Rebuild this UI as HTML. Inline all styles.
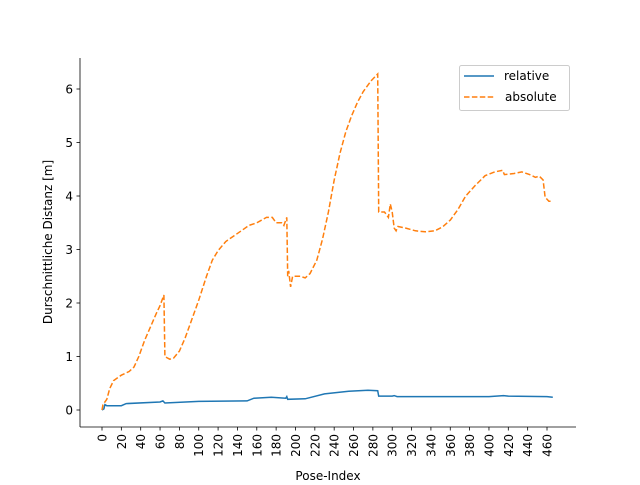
<!DOCTYPE html>
<html><head><meta charset="utf-8"><style>
body{margin:0;background:#fff;font-family:"Liberation Sans","DejaVu Sans",sans-serif}
svg text{font-family:"DejaVu Sans","Liberation Sans",sans-serif;font-size:12px;fill:#000}
</style></head><body>
<svg id="c" width="640" height="480" xmlns="http://www.w3.org/2000/svg"></svg>
<script>
const absIdx=[0,1,3,5,8,12,20,28,33,38,44,50,56,60,64,65,67,70,74,80,86,92,100,108,114,120,128,136,144,152,160,170,176,180,186,188,191,192,193,195,197,205,210,215,222,228,234,240,246,252,258,264,270,278,285,286,292,296,298,300,302,304,306,314,324,334,344,352,360,368,376,386,396,406,414,416,426,434,442,448,452,456,458,462,466];
const absVal=[0,0.1,0.15,0.2,0.4,0.55,0.65,0.72,0.8,1.0,1.3,1.55,1.8,1.95,2.15,1.0,0.98,0.95,0.97,1.1,1.35,1.65,2.05,2.5,2.8,2.98,3.15,3.25,3.35,3.45,3.5,3.6,3.6,3.5,3.5,3.45,3.6,2.5,2.6,2.3,2.5,2.5,2.47,2.55,2.8,3.2,3.7,4.3,4.8,5.2,5.5,5.75,5.95,6.15,6.28,3.7,3.7,3.6,3.85,3.7,3.4,3.35,3.43,3.4,3.35,3.33,3.35,3.42,3.55,3.75,4.0,4.2,4.38,4.45,4.48,4.4,4.42,4.45,4.4,4.35,4.37,4.3,3.98,3.9,3.9];
const relIdx=[0,2,3,5,20,25,60,63,65,100,150,157,175,190,191,192,210,230,255,275,285,286,300,302,305,400,415,420,460,466];
const relVal=[0,0.02,0.1,0.08,0.08,0.12,0.15,0.17,0.13,0.16,0.17,0.22,0.24,0.22,0.25,0.2,0.21,0.3,0.35,0.37,0.36,0.26,0.26,0.27,0.25,0.25,0.27,0.26,0.25,0.24];
const xTicks=[0,20,40,60,80,100,120,140,160,180,200,220,240,260,280,300,320,340,360,380,400,420,440,460];
const yTicks=[0,1,2,3,4,5,6];
const NS="http://www.w3.org/2000/svg",svg=document.getElementById('c');
const X=i=>102+i*0.9674, Y=v=>410-v*53.5;
function el(t,a,p){const e=document.createElementNS(NS,t);for(const k in a)e.setAttribute(k,a[k]);(p||svg).appendChild(e);return e;}
let ax=el('line',{x1:80,y1:58,x2:80,y2:427,stroke:'#000','stroke-width':0.8});

let bx=el('line',{x1:80,y1:427,x2:576,y2:427,stroke:'#000','stroke-width':0.8});

xTicks.forEach(t=>{
 el('line',{x1:X(t),y1:427,x2:X(t),y2:430.5,stroke:'#000','stroke-width':0.8});
 const tx=el('text',{transform:`translate(${X(t)+4.5},434) rotate(-90)`,'text-anchor':'end'});tx.textContent=t;
 
});
yTicks.forEach(t=>{
 el('line',{x1:76.5,y1:Y(t),x2:80,y2:Y(t),stroke:'#000','stroke-width':0.8});
 const tx=el('text',{x:73,y:Y(t)+4.5,'text-anchor':'end'});tx.textContent=t;
 
});
let xl=el('text',{x:328,y:480,'text-anchor':'middle'});xl.textContent='Pose-Index';

let yl=el('text',{transform:'translate(52,242) rotate(-90)','text-anchor':'middle'});yl.textContent='Durschnittliche Distanz [m]';

const pts=(I,V)=>I.map((i,k)=>X(i).toFixed(1)+','+Y(V[k]).toFixed(1)).join(' ');
let l1=el('polyline',{points:pts(relIdx,relVal),fill:'none',stroke:'#1f77b4','stroke-width':1.5});

let l2=el('polyline',{points:pts(absIdx,absVal),fill:'none',stroke:'#ff7f0e','stroke-width':1.5,'stroke-dasharray':'5.5,2.4'});

let lg=el('g',{});
el('rect',{x:459.5,y:65.5,width:110,height:45,rx:2,fill:'#fff',stroke:'#ccc'},lg);
el('line',{x1:464,y1:76,x2:494,y2:76,stroke:'#1f77b4','stroke-width':1.5},lg);
el('line',{x1:464,y1:97,x2:494,y2:97,stroke:'#ff7f0e','stroke-width':1.5,'stroke-dasharray':'5.5,2.4'},lg);
let t1=el('text',{x:504,y:80},lg);t1.textContent='relative';

let t2=el('text',{x:505,y:101},lg);t2.textContent='absolute';

</script>
</body></html>
